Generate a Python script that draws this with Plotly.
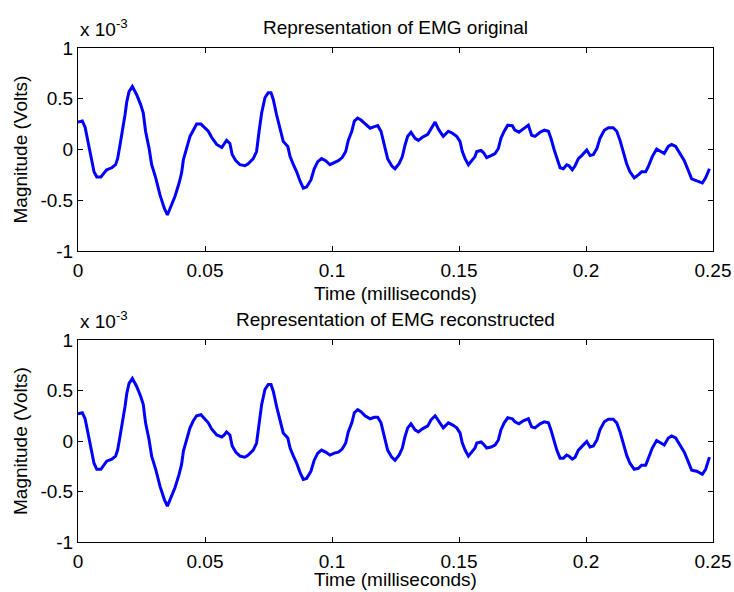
import plotly.graph_objects as go

# time in milliseconds
time_ms = [0, 0.0017, 0.0028, 0.004, 0.0054, 0.0063, 0.0074, 0.009, 0.0113, 0.0133, 0.0148, 0.0156,
           0.0165, 0.0178, 0.0185, 0.0192, 0.0201, 0.0214, 0.0231, 0.0247, 0.0257, 0.0266, 0.028, 0.029,
           0.0306, 0.0323, 0.034, 0.0352, 0.0369, 0.0382, 0.0398, 0.0408, 0.0415, 0.0428, 0.0441, 0.0454,
           0.0467, 0.0484, 0.05, 0.0513, 0.0526, 0.0546, 0.0566, 0.0576, 0.0585, 0.0598, 0.0607, 0.0621,
           0.0638, 0.0657, 0.067, 0.069, 0.0703, 0.0713, 0.0723, 0.0736, 0.0749, 0.076, 0.0769, 0.0782,
           0.0795, 0.0808, 0.0826, 0.0835, 0.0848, 0.0861, 0.0874, 0.0887, 0.09, 0.0917, 0.093, 0.0944,
           0.0959, 0.0975, 0.0992, 0.1009, 0.1025, 0.104, 0.1054, 0.1064, 0.1078, 0.1088, 0.1101, 0.1114,
           0.113, 0.115, 0.1167, 0.118, 0.1193, 0.1206, 0.1219, 0.1235, 0.1248, 0.1264, 0.1277, 0.1287,
           0.1298, 0.1311, 0.1327, 0.134, 0.1356, 0.1377, 0.139, 0.1406, 0.1419, 0.1438, 0.1458, 0.1474,
           0.1491, 0.1504, 0.1513, 0.1524, 0.1537, 0.1552, 0.1563, 0.157, 0.1587, 0.1596, 0.1609, 0.1626,
           0.1642, 0.1655, 0.1665, 0.1678, 0.1692, 0.171, 0.172, 0.1736, 0.1753, 0.1773, 0.1786, 0.1799,
           0.1819, 0.1836, 0.1852, 0.1862, 0.1875, 0.1885, 0.1898, 0.1911, 0.1924, 0.1933, 0.1946, 0.1957,
           0.197, 0.1983, 0.2003, 0.2016, 0.2029, 0.2043, 0.2055, 0.2072, 0.2088, 0.2107, 0.2121, 0.2134,
           0.2147, 0.216, 0.2173, 0.219, 0.2206, 0.2219, 0.2235, 0.2245, 0.2261, 0.2278, 0.2291, 0.2308,
           0.2324, 0.2337, 0.2353, 0.237, 0.2387, 0.24, 0.2416, 0.2436, 0.2458, 0.2471, 0.2486]

# magnitude in units of 1e-3 volts
emg_original = [0.27, 0.28, 0.22, 0.08, -0.09, -0.22, -0.27, -0.27, -0.20, -0.18, -0.15, -0.09,
                0.04, 0.21, 0.34, 0.47, 0.57, 0.62, 0.54, 0.44, 0.36, 0.18, 0.01, -0.15,
                -0.28, -0.45, -0.58, -0.645, -0.55, -0.46, -0.33, -0.23, -0.10, 0.01, 0.13, 0.19,
                0.25, 0.25, 0.215, 0.18, 0.12, 0.05, 0.02, 0.06, 0.09, 0.06, -0.05, -0.11,
                -0.15, -0.16, -0.14, -0.09, -0.02, 0.18, 0.36, 0.51, 0.56, 0.56, 0.49, 0.34,
                0.21, 0.08, 0.03, -0.07, -0.15, -0.22, -0.31, -0.38, -0.37, -0.30, -0.19, -0.12,
                -0.09, -0.11, -0.15, -0.13, -0.11, -0.08, -0.02, 0.09, 0.18, 0.28, 0.31, 0.29,
                0.25, 0.21, 0.225, 0.235, 0.18, 0.04, -0.09, -0.16, -0.19, -0.14, -0.07, 0.04,
                0.13, 0.17, 0.11, 0.09, 0.12, 0.15, 0.21, 0.27, 0.20, 0.13, 0.18, 0.16,
                0.13, 0.08, -0.02, -0.09, -0.15, -0.10, -0.07, -0.02, -0.01, -0.03, -0.08, -0.06,
                -0.04, 0.01, 0.11, 0.18, 0.24, 0.235, 0.19, 0.17, 0.20, 0.24, 0.14, 0.13,
                0.17, 0.19, 0.18, 0.11, -0.005, -0.09, -0.18, -0.19, -0.15, -0.16, -0.20, -0.16,
                -0.09, -0.06, -0.005, -0.06, -0.05, 0.01, 0.11, 0.19, 0.215, 0.215, 0.18, 0.09,
                -0.04, -0.14, -0.22, -0.28, -0.25, -0.22, -0.22, -0.17, -0.07, 0.005, -0.015, -0.04,
                0.03, 0.05, 0.03, -0.04, -0.11, -0.19, -0.29, -0.31, -0.33, -0.28, -0.19]

emg_reconstructed = [0.27, 0.28, 0.22, 0.08, -0.09, -0.22, -0.28, -0.28, -0.20, -0.18, -0.15, -0.09,
                     0.04, 0.21, 0.34, 0.47, 0.57, 0.62, 0.54, 0.44, 0.36, 0.18, 0.01, -0.15,
                     -0.28, -0.45, -0.58, -0.645, -0.55, -0.46, -0.33, -0.23, -0.10, 0.01, 0.13, 0.20,
                     0.25, 0.26, 0.22, 0.18, 0.12, 0.06, 0.04, 0.06, 0.09, 0.06, -0.05, -0.11,
                     -0.15, -0.16, -0.14, -0.09, -0.02, 0.18, 0.36, 0.51, 0.56, 0.56, 0.49, 0.34,
                     0.21, 0.08, 0.03, -0.07, -0.15, -0.22, -0.31, -0.38, -0.37, -0.30, -0.19, -0.12,
                     -0.09, -0.11, -0.14, -0.12, -0.11, -0.08, -0.02, 0.09, 0.18, 0.28, 0.31, 0.29,
                     0.25, 0.22, 0.235, 0.235, 0.18, 0.04, -0.09, -0.16, -0.19, -0.14, -0.07, 0.04,
                     0.13, 0.17, 0.11, 0.09, 0.12, 0.15, 0.21, 0.25, 0.20, 0.13, 0.18, 0.16,
                     0.13, 0.08, -0.02, -0.09, -0.15, -0.10, -0.07, -0.02, -0.01, -0.03, -0.07, -0.06,
                     -0.04, 0.01, 0.11, 0.18, 0.23, 0.22, 0.19, 0.17, 0.20, 0.22, 0.14, 0.13,
                     0.17, 0.19, 0.18, 0.11, -0.005, -0.09, -0.17, -0.17, -0.14, -0.15, -0.18, -0.16,
                     -0.09, -0.06, -0.005, -0.06, -0.05, 0.01, 0.11, 0.19, 0.215, 0.215, 0.18, 0.09,
                     -0.04, -0.14, -0.22, -0.28, -0.27, -0.24, -0.24, -0.17, -0.07, 0.005, -0.015, -0.04,
                     0.03, 0.05, 0.03, -0.04, -0.11, -0.19, -0.29, -0.30, -0.33, -0.28, -0.16]

x_ticks = [0, 0.05, 0.1, 0.15, 0.2, 0.25]
x_tick_labels = ["0", "0.05", "0.1", "0.15", "0.2", "0.25"]
y_ticks = [-1, -0.5, 0, 0.5, 1]
y_tick_labels = ["-1", "-0.5", "0", "0.5", "1"]

titles = ["Representation of EMG original", "Representation of EMG reconstructed"]
x_title = "Time (milliseconds)"
y_title = "Magnitude (Volts)"

W, H = 734, 592
FONT = "Liberation Sans, Arial, sans-serif"
FS = 19

def px(x):
    return x / W

def py(y):
    return 1 - y / H

fig = go.Figure()
fig.add_trace(go.Scatter(x=time_ms, y=emg_original, mode="lines",
                         line=dict(color="#0000FF", width=3), xaxis="x", yaxis="y",
                         showlegend=False))
fig.add_trace(go.Scatter(x=time_ms, y=emg_reconstructed, mode="lines",
                         line=dict(color="#0000FF", width=3), xaxis="x2", yaxis="y2",
                         showlegend=False))

xdom = [px(78), px(713)]
top_dom = [py(251), py(48)]
bot_dom = [py(542), py(340)]

common_x = dict(range=[0, 0.25], tickvals=x_ticks, ticktext=x_tick_labels, ticks="inside",
                ticklen=5, tickcolor="black", showline=True, linecolor="black", linewidth=1,
                mirror="ticks", showgrid=False, zeroline=False, domain=xdom, automargin=False,
                ticklabelstandoff=2,
                tickfont=dict(family=FONT, size=FS, color="black"))
common_y = dict(range=[-1, 1], tickvals=y_ticks, ticktext=y_tick_labels, ticks="inside",
                ticklen=5, tickcolor="black", showline=True, linecolor="black", linewidth=1,
                mirror="ticks", showgrid=False, zeroline=False, automargin=False,
                tickfont=dict(family=FONT, size=FS, color="black"))

ann = []
for i, (ytop, ybot, xt_off) in enumerate([(48, 251, 42), (340, 542, 37)]):
    ann.append(dict(text=titles[i], x=px(395.5), y=py(ytop - 21), xref="paper", yref="paper",
                    showarrow=False, xanchor="center", yanchor="middle",
                    font=dict(family=FONT, size=FS, color="black")))
    ann.append(dict(text="x 10<sup>-3</sup>", x=px(78), y=py(ytop - 20), xref="paper", yref="paper",
                    showarrow=False, xanchor="left", yanchor="middle",
                    font=dict(family=FONT, size=FS, color="black")))
    ann.append(dict(text=x_title, x=px(395.5), y=py(ybot + xt_off), xref="paper", yref="paper",
                    showarrow=False, xanchor="center", yanchor="middle",
                    font=dict(family=FONT, size=FS, color="black")))
    ann.append(dict(text=y_title, x=px(20), y=py((ytop + ybot) / 2), xref="paper", yref="paper",
                    showarrow=False, xanchor="center", yanchor="middle", textangle=-90,
                    font=dict(family=FONT, size=FS, color="black")))

fig.update_layout(
    width=W, height=H, margin=dict(l=0, r=0, t=0, b=0),
    paper_bgcolor="white", plot_bgcolor="white",
    xaxis=dict(common_x, anchor="y"),
    yaxis=dict(common_y, domain=top_dom, anchor="x"),
    xaxis2=dict(common_x, anchor="y2"),
    yaxis2=dict(common_y, domain=bot_dom, anchor="x2"),
    annotations=ann, showlegend=False,
)

fig.write_html("out.html", config={"displayModeBar": False},
               post_script="document.body.style.margin='0';document.body.style.overflow='hidden';")
